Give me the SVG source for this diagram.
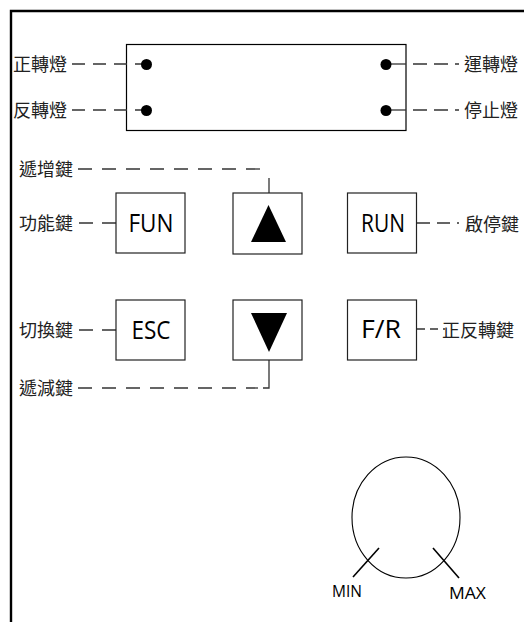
<svg xmlns="http://www.w3.org/2000/svg" width="524" height="622" viewBox="0 0 524 622">
<style>
.lbl{font-family:"Noto Sans CJK TC","Noto Sans CJK SC",sans-serif;font-size:18px;fill:#222}
.key{font-family:"Open Sans","Liberation Sans",sans-serif;font-size:25px;fill:#000;text-anchor:middle}
.small{font-family:"Open Sans","Liberation Sans",sans-serif;font-size:17px;fill:#000}
.box{fill:#fff;stroke:#222;stroke-width:1.2}
.ln{stroke:#333;stroke-width:1.3;fill:none}
.dot{fill:#000}
</style>
<rect width="524" height="622" fill="#fff"/>
<path d="M11,622 V11 H524" fill="none" stroke="#000" stroke-width="2.4"/>

<g id="panel">
<rect x="126.5" y="44.5" width="279.5" height="86" fill="#fff" stroke="#000" stroke-width="1.2"/>
</g>

<g id="connectors">
<line class="ln" x1="72" y1="64" x2="146" y2="64" stroke-dasharray="13 8"/>
<line class="ln" x1="72" y1="110" x2="146" y2="110" stroke-dasharray="13 8"/>
<line class="ln" x1="386" y1="64" x2="406" y2="64" stroke="#555"/>
<line class="ln" x1="413" y1="64" x2="459" y2="64" stroke="#555" stroke-dasharray="14 7"/>
<line class="ln" x1="386" y1="110" x2="406" y2="110" stroke="#555"/>
<line class="ln" x1="413" y1="110" x2="459" y2="110" stroke="#555" stroke-dasharray="14 7"/>
<line class="ln" x1="78" y1="169" x2="266" y2="169" stroke-dasharray="14 10"/>
<line class="ln" x1="269" y1="178" x2="269" y2="193"/>
<line class="ln" x1="116" y1="223" x2="77" y2="223" stroke-dasharray="14 9"/>
<line class="ln" x1="417" y1="223" x2="459" y2="223" stroke-dasharray="13 7"/>
<line class="ln" x1="116" y1="330" x2="77" y2="330" stroke-dasharray="14 9"/>
<line class="ln" x1="417" y1="329" x2="445" y2="329" stroke-dasharray="8 5"/>
<path class="ln" d="M269,360 V388 H263"/>
<line class="ln" x1="78" y1="388" x2="258" y2="388" stroke-dasharray="14 10"/>
</g>

<g id="led-fwd"><circle class="dot" cx="146.5" cy="64.5" r="5.5"/><text class="lbl" x="13" y="71">正轉燈</text></g>
<g id="led-rev"><circle class="dot" cx="146.5" cy="110.5" r="5.5"/><text class="lbl" x="13" y="117">反轉燈</text></g>
<g id="led-run"><circle class="dot" cx="386" cy="64.5" r="5.5"/><text class="lbl" x="464" y="71">運轉燈</text></g>
<g id="led-stop"><circle class="dot" cx="386" cy="110.5" r="5.5"/><text class="lbl" x="464" y="117">停止燈</text></g>

<g id="lbl-up"><text class="lbl" x="19" y="176">遞增鍵</text></g>
<g id="lbl-down"><text class="lbl" x="19" y="395">遞減鍵</text></g>

<g id="key-fun"><rect class="box" x="116" y="193" width="69" height="60"/><text class="key" x="151" y="232" textLength="45" lengthAdjust="spacingAndGlyphs">FUN</text><text class="lbl" x="19" y="230">功能鍵</text></g>
<g id="key-up"><rect class="box" x="233" y="193" width="69" height="61"/><polygon points="268.5,205 251,242 286,242" fill="#000"/></g>
<g id="key-run"><rect class="box" x="347.5" y="193" width="69" height="60"/><text class="key" x="383" y="232" textLength="44" lengthAdjust="spacingAndGlyphs">RUN</text><text class="lbl" x="465" y="231">啟停鍵</text></g>

<g id="key-esc"><rect class="box" x="116" y="300" width="69" height="60"/><text class="key" x="151" y="339" textLength="39" lengthAdjust="spacingAndGlyphs">ESC</text><text class="lbl" x="19" y="337">切換鍵</text></g>
<g id="key-down"><rect class="box" x="233" y="300" width="69" height="60"/><polygon points="251,313 287,313 269,352" fill="#000"/></g>
<g id="key-fr"><rect class="box" x="347.5" y="300" width="69" height="60"/><text class="key" x="381" y="338" textLength="40" lengthAdjust="spacingAndGlyphs">F/R</text><text class="lbl" x="442" y="337">正反轉鍵</text></g>

<g id="knob">
<ellipse cx="406" cy="517.5" rx="54" ry="60.5" fill="none" stroke="#000" stroke-width="1.1"/>
<line x1="353" y1="577" x2="379" y2="548" stroke="#000" stroke-width="1.6"/>
<line x1="433" y1="548" x2="459" y2="578" stroke="#000" stroke-width="1.6"/>
<text class="small" x="332" y="597" textLength="30" lengthAdjust="spacingAndGlyphs">MIN</text>
<text class="small" x="449" y="599" textLength="37" lengthAdjust="spacingAndGlyphs">MAX</text>
</g>
</svg>
